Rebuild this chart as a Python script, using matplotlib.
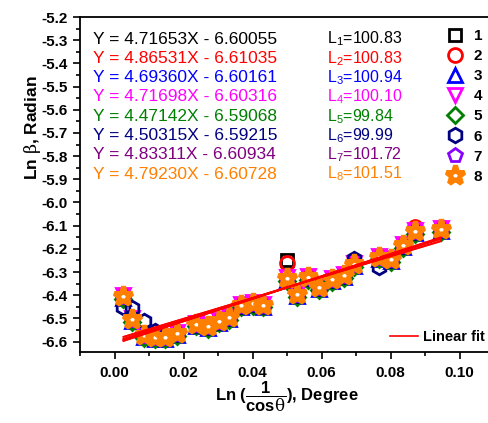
import matplotlib
matplotlib.use("Agg")
import matplotlib.pyplot as plt
from matplotlib.lines import Line2D
from matplotlib.ticker import MultipleLocator, FormatStrFormatter

plt.rcParams['font.family'] = ['Liberation Sans', 'DejaVu Sans']
plt.rcParams['axes.unicode_minus'] = False
plt.rcParams['mathtext.fontset'] = 'custom'
plt.rcParams['mathtext.rm'] = 'Liberation Sans'
plt.rcParams['mathtext.bf'] = 'Liberation Sans:bold'
plt.rcParams['mathtext.it'] = 'DejaVu Serif'

# ---------------- data ----------------
x = [0.0026, 0.0052, 0.0085, 0.0116, 0.0145, 0.0180, 0.0237, 0.0270, 0.0304,
     0.0333, 0.0368, 0.0400, 0.0430, 0.0499, 0.0528, 0.0560, 0.0594, 0.0629,
     0.0664, 0.0693, 0.0768, 0.0800, 0.0835, 0.0872, 0.0945]

y1 = [-6.403, -6.502, -6.571, -6.579, -6.579, -6.562, -6.523, -6.532, -6.510,
      -6.493, -6.441, -6.433, -6.441, -6.250, -6.394, -6.321, -6.364, -6.329,
      -6.312, -6.265, -6.234, -6.243, -6.183, -6.118, -6.112]
y2 = [-6.403, -6.502, -6.571, -6.579, -6.579, -6.562, -6.523, -6.532, -6.510,
      -6.493, -6.441, -6.433, -6.441, -6.262, -6.394, -6.321, -6.364, -6.329,
      -6.312, -6.265, -6.234, -6.243, -6.183, -6.106, -6.106]
y3 = [-6.410, -6.510, -6.580, -6.588, -6.588, -6.570, -6.532, -6.541, -6.519,
      -6.502, -6.450, -6.442, -6.450, -6.334, -6.403, -6.330, -6.373, -6.338,
      -6.321, -6.274, -6.243, -6.252, -6.192, -6.131, -6.123]
y4 = [-6.398, -6.497, -6.566, -6.574, -6.574, -6.557, -6.518, -6.527, -6.505,
      -6.488, -6.436, -6.428, -6.436, -6.320, -6.389, -6.316, -6.359, -6.324,
      -6.307, -6.260, -6.229, -6.238, -6.178, -6.117, -6.109]
y5 = [-6.415, -6.514, -6.583, -6.591, -6.591, -6.574, -6.535, -6.544, -6.522,
      -6.505, -6.453, -6.445, -6.453, -6.337, -6.406, -6.333, -6.376, -6.341,
      -6.324, -6.277, -6.246, -6.255, -6.195, -6.134, -6.126]
y6 = [-6.452, -6.456, -6.512, -6.556, -6.582, -6.566, -6.527, -6.536, -6.514,
      -6.497, -6.445, -6.437, -6.445, -6.329, -6.398, -6.325, -6.368, -6.333,
      -6.316, -6.245, -6.278, -6.247, -6.187, -6.126, -6.118]
y7 = [-6.409, -6.508, -6.577, -6.585, -6.585, -6.568, -6.529, -6.538, -6.516,
      -6.499, -6.447, -6.439, -6.447, -6.331, -6.400, -6.327, -6.370, -6.335,
      -6.318, -6.271, -6.240, -6.249, -6.189, -6.128, -6.120]
y8 = [-6.403, -6.502, -6.571, -6.579, -6.579, -6.562, -6.523, -6.532, -6.510,
      -6.493, -6.441, -6.433, -6.441, -6.325, -6.394, -6.321, -6.364, -6.329,
      -6.312, -6.265, -6.234, -6.243, -6.183, -6.122, -6.114]

series_y = [y1, y2, y3, y4, y5, y6, y7, y8]
series_labels = ['1', '2', '3', '4', '5', '6', '7', '8']
slopes = [4.71653, 4.86531, 4.69360, 4.71698, 4.47142, 4.50315, 4.83311, 4.79230]
intercepts = [-6.60055, -6.61035, -6.60161, -6.60316, -6.59068, -6.59215, -6.60934, -6.60728]
L_values = ['100.83', '100.83', '100.94', '100.10', '99.84', '99.99', '101.72', '101.51']

# ---------------- styles ----------------
text_colors = ['#000000', '#ff0000', '#0000ff', '#ff00ff', '#008000', '#000080', '#800080', '#ff8000']
marker_colors = ['#000000', '#ff0000', '#0000ff', '#ff00ff', '#008000', '#000080', '#8800ff', '#ff8000']
markers = ['s', 'o', '^', 'v', 'D', 'h', 'p', '*']
msizes = [9, 10, 10, 10, 8.5, 10.5, 10.5, 14]

fig = plt.figure(figsize=(4.89, 4.23), dpi=100)
ax = fig.add_axes([80/489, 1-352/423, (494-80)/489, (352-17)/423])

handles = []
for i in range(8):
    if markers[i] == '*':
        h, = ax.plot(x, series_y[i], linestyle='none', marker='*', ms=msizes[i],
                     mfc='white', mec=marker_colors[i], mew=3.6, zorder=3+i)
    else:
        h, = ax.plot(x, series_y[i], linestyle='none', marker=markers[i], ms=msizes[i],
                     mfc='none', mec=marker_colors[i], mew=2, zorder=3+i)
    handles.append(h)

for i in range(8):
    xs = [min(x), max(x)]
    ys = [slopes[i]*xv + intercepts[i] for xv in xs]
    ax.plot(xs, ys, color='#ff0000', lw=1.2, zorder=20)

ax.set_xlim(-0.01, 0.11)
ax.set_ylim(-6.645, -5.2)
ax.xaxis.set_major_locator(MultipleLocator(0.02))
ax.xaxis.set_minor_locator(MultipleLocator(0.01))
ax.yaxis.set_major_locator(MultipleLocator(0.1))
ax.yaxis.set_minor_locator(MultipleLocator(0.05))
ax.xaxis.set_major_formatter(FormatStrFormatter('%.2f'))
ax.yaxis.set_major_formatter(FormatStrFormatter('%.1f'))
ax.tick_params(which='major', direction='out', length=5, width=1.2, labelsize=11)
ax.tick_params(axis='x', which='major', pad=5)
ax.tick_params(axis='y', which='major', pad=4)
ax.tick_params(which='minor', direction='out', length=3, width=1.2)
ax.tick_params(top=False, right=False)
for lab in ax.get_xticklabels() + ax.get_yticklabels():
    lab.set_fontweight('bold')
for s in ax.spines.values():
    s.set_linewidth(1.3)

ax.set_xlabel(r'Ln ($\dfrac{\mathbf{1}}{\mathbf{cos}\theta}$), Degree', fontsize=12, fontweight='bold', labelpad=0)
ax.set_ylabel(r'Ln $\beta$, Radian', fontsize=12.5, fontweight='bold')
ax.yaxis.set_label_coords(-0.09, 0.669)

# equations and L values
for i in range(8):
    yy = 1 - (39 + i*19.3 - 17) / 335
    sign = '-' if intercepts[i] < 0 else '+'
    ax.text((93-80)/414, yy, f'Y = {slopes[i]:.5f}X {sign} {abs(intercepts[i]):.5f}',
            transform=ax.transAxes, color=text_colors[i], fontsize=12.5, va='center', ha='left')
    ax.text((327-80)/414, yy, f'L$_{{{i+1}}}$={L_values[i]}',
            transform=ax.transAxes, color=text_colors[i], fontsize=11.5, va='center', ha='left')

leg1 = ax.legend(handles, series_labels, loc='upper left', bbox_to_anchor=(444/489, 1-29/423),
                 bbox_transform=fig.transFigure, frameon=False, numpoints=1,
                 prop={'weight': 'bold', 'size': 11}, labelspacing=0.40,
                 handlelength=1.4, handletextpad=0.55, borderpad=0, borderaxespad=0)
ax.add_artist(leg1)
ax.legend([Line2D([0], [0], color='#ff0000', lw=1.2)], ['Linear fit'], loc='center left',
          bbox_to_anchor=(390/489, 1-337/423), bbox_transform=fig.transFigure,
          frameon=False, prop={'weight': 'bold', 'size': 10.5}, handlelength=1.9,
          handletextpad=0.35, borderpad=0, borderaxespad=0)

fig.savefig('out.png', dpi=100)
